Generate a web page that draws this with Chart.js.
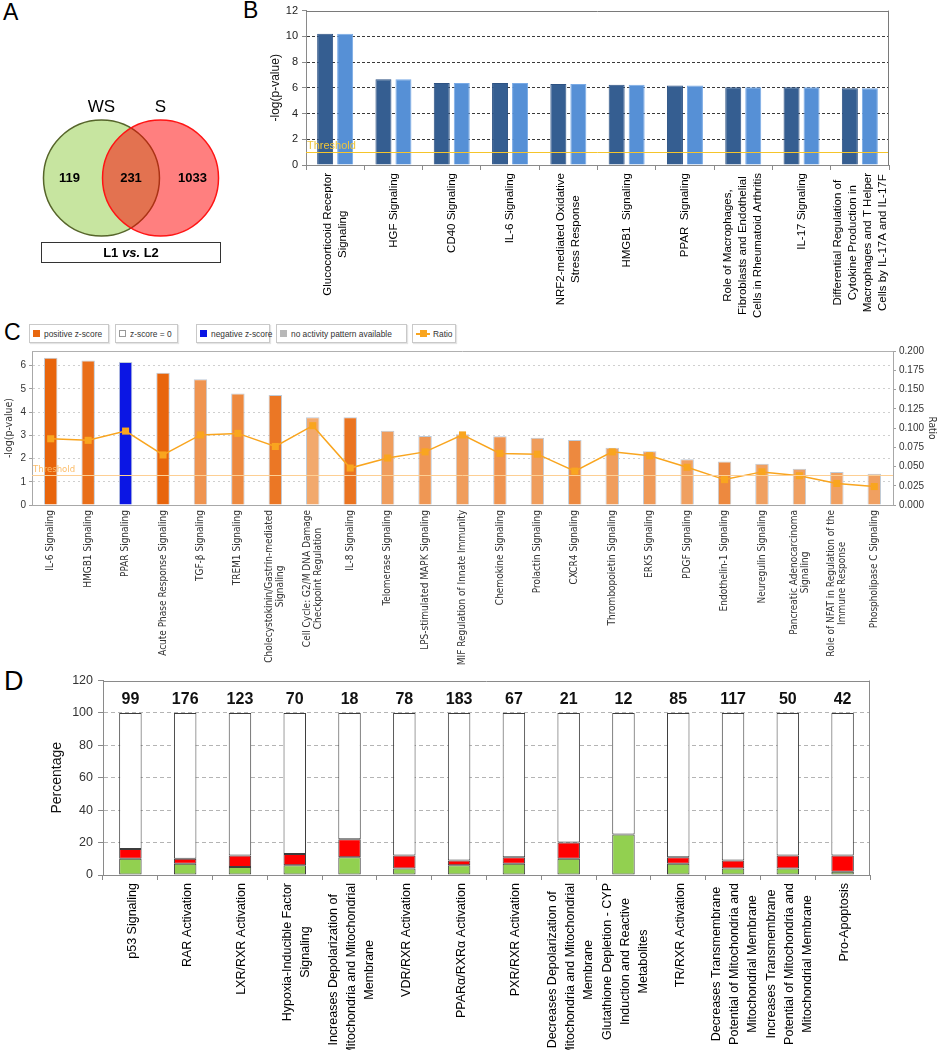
<!DOCTYPE html>
<html><head><meta charset="utf-8">
<script src="https://cdn.jsdelivr.net/npm/chart.js@4.4.1/dist/chart.umd.min.js"></script>
<style>
html,body{margin:0;padding:0;background:#fff;}
body{width:938px;height:1050px;position:relative;overflow:hidden;font-family:"Liberation Sans",Arial,sans-serif;}
canvas{position:absolute;}
.letter{position:absolute;line-height:1;color:#000;font-family:"Liberation Sans",Arial,sans-serif;}
.vbox{position:absolute;left:41px;top:242px;width:180px;height:21px;box-sizing:border-box;border:1px solid #333;font-weight:bold;font-size:13px;text-align:center;line-height:19px;}
.lg{position:absolute;top:324px;height:19px;box-sizing:border-box;border:1px solid #c9c9c9;background:#fff;font-family:"Liberation Sans",Arial,sans-serif;font-size:9.5px;color:#333;display:flex;align-items:center;padding:0 0 0 3px;white-space:nowrap;box-shadow:1px 1px 1px #e4e4e4;}
.sw{display:inline-block;flex:0 0 auto;width:7px;height:7px;margin-right:4px;box-sizing:border-box;}
.tx{display:inline-block;transform:scaleX(0.88);transform-origin:0 50%;}
</style></head><body>

<div class="letter" style="left:3px;top:1px;font-size:23px;">A</div>
<div class="letter" style="left:243px;top:-1px;font-size:23px;">B</div>
<div class="letter" style="left:4px;top:321px;font-size:23px;">C</div>
<div class="letter" style="left:4px;top:668px;font-size:27px;">D</div>

<canvas id="cA" width="230" height="156" style="left:16px;top:100px;width:230px;height:156px"></canvas>
<div class="vbox">L1 <i>vs.</i> L2</div>

<canvas id="cB" width="708" height="322" style="left:230px;top:0;width:708px;height:322px"></canvas>

<div class="lg" style="left:29px;width:80px"><span class="sw" style="background:#e8670e"></span><span class="tx">positive z-score</span></div>
<div class="lg" style="left:115px;width:63px"><span class="sw" style="background:#fff;border:1px solid #999"></span><span class="tx">z-score = 0</span></div>
<div class="lg" style="left:196px;width:74px"><span class="sw" style="background:#0b16e4"></span><span class="tx">negative z-score</span></div>
<div class="lg" style="left:276px;width:131px"><span class="sw" style="background:#b8b8b8"></span><span class="tx">no activity pattern available</span></div>
<div class="lg" style="left:412px;width:44px"><span style="position:relative;flex:0 0 auto;display:inline-block;width:14px;height:7px;margin-right:3px;"><span style="position:absolute;left:0;top:3px;width:14px;height:1.5px;background:#f9a51f"></span><span style="position:absolute;left:4px;top:0;width:7px;height:7px;background:#f9a51f"></span></span><span class="tx">Ratio</span></div>

<canvas id="cC" width="938" height="345" style="left:0;top:340px;width:938px;height:345px"></canvas>
<canvas id="cD" width="938" height="382" style="left:0;top:668px;width:938px;height:382px"></canvas>

<script>
// ---------------- DATA ----------------
// Panel A (Venn)
const vennSets = ['WS', 'S'];
const vennCounts = [119, 231, 1033]; // WS only, shared, S only

// Panel B
const pathwaysB = [
  ['Glucocorticoid Receptor','Signaling'],
  'HGF Signaling',
  'CD40 Signaling',
  'IL-6 Signaling',
  ['NRF2-mediated Oxidative','Stress Response'],
  'HMGB1  Signaling',
  'PPAR  Signaling',
  ['Role of Macrophages,','Fibroblasts and Endothelial','Cells in Rheumatoid Arthritis'],
  'IL-17 Signaling',
  ['Differential Regulation of','Cytokine Production in','Macrophages and T Helper','Cells by IL-17A and IL-17F']
];
const logpB_WS = [10.2, 6.67, 6.38, 6.38, 6.3, 6.23, 6.18, 6.05, 6.05, 5.97];
const logpB_S  = [10.2, 6.67, 6.38, 6.38, 6.3, 6.23, 6.18, 6.05, 6.05, 5.97];
const thresholdB = 1.0;
const yTicksB = {min: 0, max: 12, step: 2};

// Panel C
const pathwaysC = [
  'IL-6 Signaling','HMGB1 Signaling','PPAR Signaling','Acute Phase Response Signaling',
  'TGF-β Signaling','TREM1 Signaling',['Cholecystokinin/Gastrin-mediated','Signaling'],
  ['Cell Cycle: G2/M DNA Damage','Checkpoint Regulation'],'IL-8 Signaling','Telomerase Signaling',
  'LPS-stimulated MAPK Signaling','MIF Regulation of Innate Immunity','Chemokine Signaling',
  'Prolactin Signaling','CXCR4 Signaling','Thrombopoietin Signaling','ERK5 Signaling',
  'PDGF Signaling','Endothelin-1 Signaling','Neuregulin Signaling',
  ['Pancreatic Adenocarcinoma','Signaling'],['Role of NFAT in Regulation of the','Immune Response'],
  'Phospholipase C Signaling'
];
const logpC  = [6.34, 6.22, 6.16, 5.69, 5.41, 4.80, 4.74, 3.78, 3.78, 3.20, 2.97, 3.05,
                2.96, 2.90, 2.80, 2.46, 2.31, 1.97, 1.87, 1.78, 1.56, 1.42, 1.35];
const ratioC = [0.086, 0.084, 0.096, 0.065, 0.091, 0.093, 0.076, 0.103, 0.048, 0.061, 0.069, 0.091,
                0.067, 0.066, 0.044, 0.069, 0.064, 0.049, 0.033, 0.043, 0.038, 0.028, 0.024];
const zScoresC = [2.6, 2.3, -2.4, 2.6, 1.0, 1.4, 2.0, 0.3, 2.1, 0.7, 0.9, 0.7,
                  1.0, 0.7, 1.4, 0.7, 0.8, 0.6, 1.4, 0.6, 0.6, 0.6, 0.6];
const thresholdC = 1.3;
const ratioTicksC = {min: 0, max: 0.2, step: 0.025};

// Panel D
const pathwaysD = [
  'p53 Signaling','RAR Activation','LXR/RXR Activation',['Hypoxia-Inducible Factor','Signaling'],
  ['Increases Depolarization of','Mitochondria and Mitochondrial','Membrane'],
  'VDR/RXR Activation','PPARα/RXRα Activation','PXR/RXR Activation',
  ['Decreases Depolarization of','Mitochondria and Mitochondrial','Membrane'],
  ['Glutathione Depletion - CYP','Induction and Reactive','Metabolites'],
  'TR/RXR Activation',
  ['Decreases Transmembrane','Potential of Mitochondria and','Mitochondrial Membrane'],
  ['Increases Transmembrane','Potential of Mitochondria and','Mitochondrial Membrane'],
  'Pro-Apoptosis'
];
const downD  = [10, 7, 5, 6, 11, 4, 6, 7, 10, 25, 7, 4, 4, 2];
const upD    = [6, 3, 7, 7, 11, 8, 3, 4, 10, 0, 4, 5, 8, 10];
const noneD  = [84, 90, 88, 87, 78, 88, 91, 89, 80, 75, 89, 91, 88, 88];
const countsD = [99, 176, 123, 70, 18, 78, 183, 67, 21, 12, 85, 117, 50, 42];

// ---------------- HELPERS ----------------
const SANS = '"Liberation Sans", Arial, sans-serif';
const COND = '"DejaVu Sans Condensed", "DejaVu Sans", sans-serif';
Chart.defaults.font.family = SANS;
Chart.defaults.color = '#222';

function zColor(z){
  if (z < 0) return '#0b16e4';
  const t = Math.min(z / 2.6, 1);
  const a = [243,178,122], b = [232,101,12];
  return 'rgb(' + a.map((v,i) => Math.round(v + (b[i]-v)*t)).join(',') + ')';
}

const rotLabels = {
  id: 'rotLabels',
  afterDraw(chart, args, o) {
    const sc = chart.scales.x, ctx = chart.ctx;
    ctx.save();
    ctx.font = o.font; ctx.fillStyle = o.color;
    ctx.textAlign = 'center'; ctx.textBaseline = 'middle';
    chart.data.labels.forEach((lbl, i) => {
      const lines = Array.isArray(lbl) ? lbl : [lbl];
      const x = sc.getPixelForTick(i);
      const maxW = Math.max(...lines.map(l => ctx.measureText(l).width));
      ctx.save();
      ctx.translate(x + (o.dx || 0), sc.top + o.offset + maxW / 2);
      ctx.rotate(-Math.PI / 2);
      lines.forEach((l, k) => ctx.fillText(l, 0, (k - (lines.length - 1) / 2) * o.lineHeight));
      ctx.restore();
    });
    ctx.restore();
  }
};

const frame = {
  id: 'frame',
  afterDraw(chart, args, o) {
    const {ctx, chartArea: a} = chart;
    ctx.save();
    ctx.strokeStyle = o.color; ctx.lineWidth = 1;
    ctx.beginPath();
    const t = Math.round(a.top) + 0.5, r = Math.round(a.right) - 0.5;
    if (o.top) { ctx.moveTo(a.left, t); ctx.lineTo(a.right, t); }
    if (o.right) { ctx.moveTo(r, a.top); ctx.lineTo(r, a.bottom); }
    ctx.stroke();
    ctx.restore();
  }
};

const threshold = {
  id: 'threshold',
  afterDatasetsDraw(chart, args, o) {
    const {ctx, chartArea: a} = chart;
    const y = Math.round(chart.scales[o.scale].getPixelForValue(o.value)) + 0.5;
    ctx.save();
    ctx.strokeStyle = o.lineColor; ctx.lineWidth = 1;
    ctx.beginPath(); ctx.moveTo(a.left, y); ctx.lineTo(a.right, y); ctx.stroke();
    ctx.fillStyle = o.textColor; ctx.font = o.font;
    ctx.textAlign = 'left'; ctx.textBaseline = 'bottom';
    ctx.fillText(o.text, a.left + 1, y - 1);
    ctx.restore();
  }
};

// ---------------- PANEL A ----------------
const vennR = 58;
const vennText = {
  id: 'vennText',
  afterDatasetsDraw(chart) {
    const {ctx, scales: {x, y}} = chart;
    const cy = y.getPixelForValue(0);
    const x1 = x.getPixelForValue(1), x2 = x.getPixelForValue(2);
    ctx.save();
    ctx.fillStyle = '#000'; ctx.textAlign = 'center'; ctx.textBaseline = 'alphabetic';
    ctx.font = '17px ' + SANS;
    ctx.fillText(vennSets[0], x1, cy - vennR - 8);
    ctx.fillText(vennSets[1], x2, cy - vennR - 8);
    ctx.font = 'bold 13px ' + SANS; ctx.textBaseline = 'middle';
    ctx.fillText(String(vennCounts[0]), x1 - vennR * 0.55, cy);
    ctx.fillText(String(vennCounts[1]), (x1 + x2) / 2, cy);
    ctx.fillText(String(vennCounts[2]), x2 + vennR * 0.55, cy);
    ctx.restore();
  }
};
// the bubble controller pads the chart area by the bubble radius on each side,
// so a symmetric range around the midpoint keeps both circles 60px apart
const vennHalf = 0.94;
new Chart(document.getElementById('cA'), {
  type: 'bubble',
  data: { datasets: [
    { label: vennSets[0], data: [{x: 1, y: 0, r: vennR}], backgroundColor: '#c7e5a0', borderColor: '#56652a', borderWidth: 1.5, order: 2, clip: false },
    { label: vennSets[1], data: [{x: 2, y: 0, r: vennR}], backgroundColor: 'rgba(255,0,0,0.5)', borderColor: '#ff1414', borderWidth: 1.5, order: 1, clip: false }
  ]},
  options: {
    responsive: false, animation: false, events: [],
    layout: { padding: 0 },
    plugins: { legend: {display: false}, tooltip: {enabled: false} },
    scales: {
      x: { type: 'linear', display: false, min: 1.5 - vennHalf, max: 1.5 + vennHalf },
      y: { type: 'linear', display: false, min: -1, max: 1 }
    }
  },
  plugins: [vennText]
});

// ---------------- PANEL B ----------------
new Chart(document.getElementById('cB'), {
  type: 'bar',
  data: { labels: pathwaysB, datasets: [
    { label: 'WS', data: logpB_WS, backgroundColor: '#355e91', borderColor: '#2d5283', borderWidth: 1, borderSkipped: 'start' },
    { label: 'S',  data: logpB_S,  backgroundColor: '#5690d6', borderColor: '#79aae6', borderWidth: 1, borderSkipped: 'start' }
  ]},
  options: {
    responsive: false, animation: false, events: [],
    layout: { padding: {top: 9, right: 49, left: 0, bottom: 0} },
    datasets: { bar: { categoryPercentage: 0.686, barPercentage: 0.8 } },
    plugins: {
      legend: {display: false}, tooltip: {enabled: false},
      rotLabels: { font: '11.5px ' + SANS, color: '#000', lineHeight: 15, offset: 8 },
      frame: { color: '#7a7a7a', top: true, right: true },
      threshold: { scale: 'y', value: thresholdB, lineColor: '#f6c52a', textColor: '#efc53a', text: 'Threshold', font: '11px ' + SANS }
    },
    scales: {
      x: {
        ticks: {display: false},
        grid: {display: true, drawOnChartArea: false, drawTicks: true, tickLength: 5, color: '#8a8a8a', tickColor: '#8a8a8a', offset: true},
        border: {color: '#8a8a8a'},
        afterFit: s => { s.height = 157; }
      },
      y: {
        min: yTicksB.min, max: yTicksB.max,
        ticks: {stepSize: yTicksB.step, font: {size: 11}, color: '#222', padding: 4},
        grid: {color: c => (c.tick && c.tick.value > yTicksB.min && c.tick.value < yTicksB.max) ? '#3a3a3a' : 'rgba(0,0,0,0)', tickColor: '#8a8a8a', tickLength: 4},
        border: {color: '#8a8a8a', dash: [3, 2]},
        title: {display: true, text: '-log(p-value)', font: {size: 12}, color: '#111', padding: {top: 38, bottom: 0}},
        afterFit: s => { s.width = 76; }
      }
    }
  },
  plugins: [rotLabels, frame, threshold]
});

// ---------------- PANEL C ----------------
new Chart(document.getElementById('cC'), {
  data: { labels: pathwaysC, datasets: [
    { type: 'line', label: 'Ratio', data: ratioC, yAxisID: 'y2', borderColor: '#f9a51f', backgroundColor: '#f9a51f',
      borderWidth: 1.5, pointStyle: 'rect', pointRadius: 5, pointBorderWidth: 0, tension: 0, order: 0 },
    { type: 'bar', label: '-log(p-value)', data: logpC, yAxisID: 'y', backgroundColor: zScoresC.map(zColor),
      borderColor: '#bfcbd8', borderWidth: 1, borderSkipped: 'start', barPercentage: 0.36, categoryPercentage: 1, order: 1 }
  ]},
  options: {
    responsive: false, animation: false, events: [],
    layout: { padding: {top: 11, right: 0, left: 0, bottom: 0} },
    plugins: {
      legend: {display: false}, tooltip: {enabled: false},
      rotLabels: { font: '10px ' + COND, color: '#333', lineHeight: 11, offset: 5 },
      frame: { color: '#b0b0b0', top: true, right: false },
      threshold: { scale: 'y', value: thresholdC, lineColor: '#fdcf94', textColor: '#fcbd6a', text: 'Threshold', font: '9.5px ' + COND }
    },
    scales: {
      x: {
        ticks: {display: false},
        grid: {display: false},
        border: {color: '#a8a8a8'},
        afterFit: s => { s.height = 180; }
      },
      y: {
        position: 'left', min: 0, max: 6.63,
        afterBuildTicks: s => { s.ticks = s.ticks.filter(t => Number.isInteger(t.value)); },
        ticks: {stepSize: 1, font: {size: 10}, color: '#333', padding: 3},
        grid: {color: c => (c.tick && c.tick.value > 0) ? '#cfcfcf' : 'rgba(0,0,0,0)', tickColor: '#a0a0a0', tickLength: 3},
        border: {color: '#a8a8a8', dash: [2, 3]},
        title: {display: true, text: '-log(p-value)', font: {size: 10.5, family: COND}, color: '#333', padding: {top: 3, bottom: 0}},
        afterFit: s => { s.width = 32; }
      },
      y2: {
        position: 'right', min: ratioTicksC.min, max: ratioTicksC.max,
        ticks: {stepSize: ratioTicksC.step, font: {size: 10}, color: '#333', padding: 3, callback: v => Number(v).toFixed(3)},
        grid: {drawOnChartArea: false, tickColor: '#a0a0a0', tickLength: 3},
        border: {color: '#a8a8a8'},
        title: {display: true, text: 'Ratio', font: {size: 10, family: COND}, color: '#333', padding: {top: 0, bottom: 0}},
        afterFit: s => { s.width = 45; }
      }
    }
  },
  plugins: [rotLabels, frame, threshold]
});

// ---------------- PANEL D ----------------
const countsText = {
  id: 'countsText',
  afterDatasetsDraw(chart) {
    const {ctx, scales: {x, y}} = chart;
    ctx.save();
    ctx.font = 'bold 16px ' + SANS; ctx.fillStyle = '#111';
    ctx.textAlign = 'center'; ctx.textBaseline = 'middle';
    countsD.forEach((c, i) => ctx.fillText(String(c), x.getPixelForTick(i), y.getPixelForValue(108.4)));
    ctx.restore();
  }
};
const segD = { borderColor: '#3c3c3c', borderWidth: 1, borderSkipped: false, categoryPercentage: 0.41, barPercentage: 1 };
new Chart(document.getElementById('cD'), {
  type: 'bar',
  data: { labels: pathwaysD, datasets: [
    Object.assign({ label: 'Down-regulated', data: downD, backgroundColor: '#92d050' }, segD),
    Object.assign({ label: 'Up-regulated', data: upD, backgroundColor: '#ff0000' }, segD),
    Object.assign({ label: 'No overlap with dataset', data: noneD, backgroundColor: '#ffffff' }, segD)
  ]},
  options: {
    responsive: false, animation: false, events: [],
    layout: { padding: {top: 12, right: 68, left: 0, bottom: 0} },
    plugins: {
      legend: {display: false}, tooltip: {enabled: false},
      rotLabels: { font: '12.5px ' + SANS, color: '#000', lineHeight: 18, offset: 8, dx: 2 },
      frame: { color: '#8a8a8a', top: true, right: true }
    },
    scales: {
      x: {
        stacked: true,
        ticks: {display: false},
        grid: {display: true, drawOnChartArea: false, drawTicks: true, tickLength: 5, color: '#8a8a8a', tickColor: '#8a8a8a', offset: true},
        border: {color: '#8a8a8a'},
        afterFit: s => { s.height = 175; }
      },
      y: {
        stacked: true, min: 0, max: 120,
        ticks: {stepSize: 20, font: {size: 12.5}, color: '#333', padding: 5},
        grid: {color: c => (c.tick && c.tick.value > 0 && c.tick.value < 120) ? '#b4b4b4' : 'rgba(0,0,0,0)', tickColor: '#8a8a8a', tickLength: 5},
        border: {color: '#8a8a8a', dash: [4, 3]},
        title: {display: true, text: 'Percentage', font: {size: 14}, color: '#111', padding: {top: 49, bottom: 0}},
        afterFit: s => { s.width = 103; }
      }
    }
  },
  plugins: [rotLabels, frame, countsText]
});
</script>
</body></html>
